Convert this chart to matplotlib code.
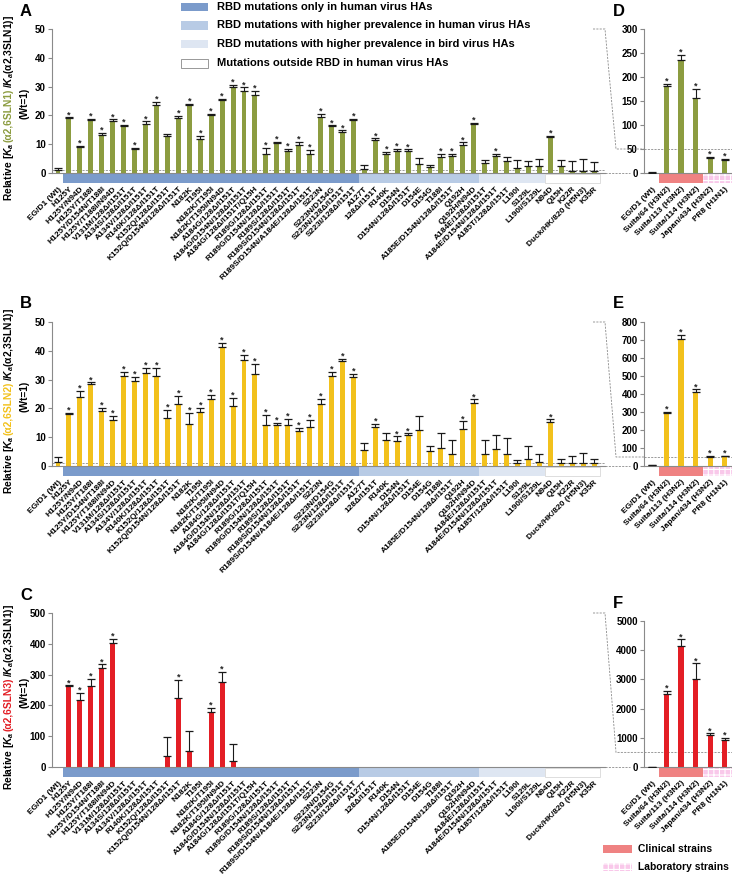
import matplotlib
matplotlib.use("Agg")
import matplotlib.pyplot as plt
from matplotlib.patches import Rectangle
from matplotlib.lines import Line2D
from matplotlib.transforms import blended_transform_factory
import numpy as np

plt.rcParams['font.family'] = ['Liberation Sans', 'DejaVu Sans']
plt.rcParams['font.weight'] = 'bold'
plt.rcParams['mathtext.fontset'] = 'custom'
plt.rcParams['mathtext.it'] = 'Liberation Sans:italic:bold'
plt.rcParams['mathtext.rm'] = 'Liberation Sans:bold'
plt.rcParams['mathtext.bf'] = 'Liberation Sans:bold'
plt.rcParams['hatch.linewidth'] = 0.8

W, H = 732, 874

# ---- data -------------------------------------------------------------
mutants = [
    "EG/D1 (Wt)", "H125Y", "H125Y/N94D", "H125Y/T188I", "H125Y/D154N/T188I",
    "H125Y/T188I/N94D", "V131M/128Δ/I151T", "A134S/128Δ/I151T", "A134V/128Δ/I151T",
    "R140K/128Δ/I151T", "K152Q/128Δ/I151T", "K152Q/D154N/128Δ/I151T", "N182K",
    "T195I", "N182K/T195I", "N182K/T195I/N94D", "A184G/128Δ/I151T",
    "A184G/D154N/128Δ/I151T", "A184G/128Δ/I151T/Q15H", "R189G/128Δ/I151T",
    "R189G/D154N/128Δ/I151T", "R189S/128Δ/I151T", "R189S/D154N/128Δ/I151T",
    "R189S/D154N/A184E/128Δ/I151T", "S223N", "S223N/D154G", "S223N/128Δ/I151T",
    "S223I/128Δ/I151T", "A127T", "128Δ/I151T", "R140K", "D154N",
    "D154N/128Δ/I151T", "D154E", "D154G", "T188I", "A185E/D154N/128Δ/I151T",
    "Q192H", "Q192H/N94D", "A184E/128Δ/I151T", "A184E/D154N/128Δ/I151T",
    "A185T/128Δ/I151T", "L190I", "S129L", "L190I/S129L", "N94D", "Q15H", "K22R",
    "Duck/HK/820 (H5N3)", "K35R",
]

sln1 = [1.0, 19.0, 8.9, 18.5, 13.3, 18.2, 16.2, 8.3, 17.1, 23.7,
        12.9, 19.0, 23.7, 11.8, 20.2, 25.2, 30.0, 28.6, 27.1, 6.7,
        10.4, 7.5, 9.6, 6.7, 19.6, 16.2, 14.1, 18.5, 1.5, 11.5,
        6.7, 7.8, 7.5, 3.2, 2.0, 5.5, 5.8, 9.8, 17.0, 3.5,
        6.0, 4.3, 1.7, 2.5, 2.5, 12.5, 2.5, 0.8, 0.8, 0.7]
sln1_err = [0.9, 0.3, 0.5, 0.4, 0.6, 0.4, 0.4, 0.4, 0.8, 1.1,
            0.7, 0.7, 0.4, 1.1, 0.4, 0.5, 0.6, 1.1, 1.3, 2.0,
            0.5, 0.9, 1.1, 1.3, 0.9, 0.3, 0.7, 0.4, 1.4, 0.5,
            0.6, 0.5, 0.7, 2.0, 0.9, 1.0, 0.9, 0.8, 0.4, 0.9,
            0.6, 1.2, 2.8, 1.5, 2.3, 0.3, 2.1, 3.2, 4.0, 3.0]
sln1_sig = [0, 1, 1, 1, 1, 1, 1, 1, 1, 1,
            0, 1, 1, 1, 1, 1, 1, 1, 1, 1,
            1, 1, 1, 1, 1, 1, 1, 1, 0, 1,
            1, 1, 1, 0, 0, 1, 1, 1, 1, 0,
            1, 0, 0, 0, 0, 1, 0, 0, 0, 0]

sln2 = [1.3, 18.2, 24.1, 28.3, 19.1, 16.1, 31.4, 29.4, 32.2, 31.1,
        16.6, 21.6, 14.7, 18.6, 23.1, 41.4, 20.7, 36.8, 32.0, 14.1,
        14.1, 14.1, 12.2, 13.6, 21.6, 31.4, 36.3, 30.8, 5.5, 13.6,
        9.2, 8.7, 10.7, 12.4, 5.3, 6.1, 4.0, 13.0, 22.0, 4.0,
        6.0, 4.0, 0.9, 2.4, 1.3, 15.4, 1.1, 1.1, 1.1, 1.1]
sln2_err = [1.9, 0.3, 2.1, 0.7, 1.1, 1.4, 1.4, 1.4, 1.8, 2.9,
            2.9, 2.7, 3.7, 1.6, 1.6, 1.2, 2.9, 1.7, 3.4, 3.5,
            1.0, 2.2, 1.1, 2.3, 1.7, 1.2, 0.8, 1.2, 2.5, 1.1,
            2.3, 1.6, 0.6, 5.1, 1.6, 5.5, 5.2, 2.5, 1.1, 5.0,
            4.6, 5.8, 1.3, 4.7, 2.7, 0.8, 1.2, 2.5, 3.3, 1.5]
sln2_sig = [0, 1, 1, 1, 1, 1, 1, 1, 1, 1,
            1, 1, 1, 1, 1, 1, 1, 1, 1, 1,
            1, 1, 1, 1, 1, 1, 1, 1, 0, 1,
            0, 1, 1, 0, 0, 0, 0, 1, 1, 0,
            0, 0, 0, 0, 0, 1, 0, 0, 0, 0]

sln3 = [1, 262, 218, 262, 320, 402, 0, 0, 0, 0,
        36, 223, 51, 0, 179, 277, 21, 0, 0, 0,
        0, 0, 0, 0, 0, 0, 0, 0, 0, 0,
        0, 0, 0, 0, 0, 0, 0, 0, 0, 1,
        1, 0, 0, 0, 0, 0, 0, 0, 0, 1]
sln3_err = [0, 3, 22, 25, 13, 15, 0, 0, 0, 0,
            62, 60, 66, 0, 14, 32, 55, 0, 0, 0,
            0, 0, 0, 0, 0, 0, 0, 0, 0, 0,
            0, 0, 0, 0, 0, 0, 0, 0, 0, 0,
            0, 0, 0, 0, 0, 0, 0, 0, 0, 0]
sln3_sig = [0, 1, 1, 1, 1, 1, 0, 0, 0, 0,
            0, 1, 0, 0, 1, 1, 0, 0, 0, 0,
            0, 0, 0, 0, 0, 0, 0, 0, 0, 0,
            0, 0, 0, 0, 0, 0, 0, 0, 0, 0,
            0, 0, 0, 0, 0, 0, 0, 0, 0, 0]

strains = ["EG/D1 (Wt)", "Suita/64 (H3N2)", "Suita/113 (H3N2)",
           "Suita/114 (H3N2)", "Japan/434 (H3N2)", "PR8 (H1N1)"]
strain_sln1 = [1, 182, 235, 157, 32, 28]
strain_sln1_err = [1, 3, 11, 18, 1, 1]
strain_sln2 = [3, 292, 705, 410, 52, 53]
strain_sln2_err = [1, 10, 22, 15, 2, 3]
strain_sln3 = [5, 2500, 4150, 3000, 1080, 930]
strain_sln3_err = [5, 100, 220, 550, 70, 70]
strain_sig = [0, 1, 1, 1, 1, 1]

# region groups (first index, last index) and their colours
groups = [(1, 27, '#7b9bcb', 'none'), (28, 38, '#b8cbe5', 'none'),
          (39, 44, '#dee6f2', 'none'), (45, 49, 'white', '#d8d8d8')]
strain_groups = [(1, 3, '#ef8282', None), (4, 5, '#f9c8ea', '+++')]

legend_labels = ["RBD mutations only in human virus HAs",
                 "RBD mutations with higher prevalence in human virus HAs",
                 "RBD mutations with higher prevalence in bird virus HAs",
                 "Mutations outside RBD in human virus HAs"]

GREEN, YELLOW, RED = '#8c9c40', '#f2c11c', '#e31e25'
GREY = '#8a8a8a'

fig = plt.figure(figsize=(W / 100, H / 100), dpi=100)


def rect(l, t, r, b):
    return [l / W, 1 - b / H, (r - l) / W, (b - t) / H]


def style_axis(ax):
    for s in ['top', 'right']:
        ax.spines[s].set_visible(False)
    ax.spines['left'].set_color(GREY)
    ax.spines['bottom'].set_color(GREY)
    ax.spines['left'].set_linewidth(0.8)
    ax.spines['bottom'].set_linewidth(0.8)
    ax.tick_params(axis='y', length=3, width=0.8, color=GREY, labelsize=7, pad=1.5)
    ax.tick_params(axis='x', length=0, labelsize=6.0, pad=9)
    for lab in ax.get_yticklabels():
        lab.set_fontweight('bold')


def draw_bars(ax, vals, errs, sig, color, width, band, hpx):
    x = np.arange(len(vals))
    vals = np.array(vals, dtype=float)
    errs = np.array(errs, dtype=float)
    ax.bar(x, vals, width=width, color=color, zorder=2)
    m = errs > 0
    ax.errorbar(x[m], vals[m], yerr=[np.zeros(m.sum()), errs[m]], fmt='none',
                ecolor='#1a1a1a', elinewidth=0.8, capsize=2.6, capthick=0.9, zorder=3)
    for xi, v, e, s in zip(x, vals, errs, sig):
        if s:
            ax.annotate('*', (xi, v + e), xytext=(0, 0.2), textcoords='offset points',
                        ha='center', va='baseline', fontsize=6.5, color='#222222')
    tr = blended_transform_factory(ax.transData, ax.transAxes)
    for a, b, fc, hatch_or_edge in band:
        if hatch_or_edge in (None, 'none') or hatch_or_edge.startswith('#'):
            ec = hatch_or_edge if (hatch_or_edge and hatch_or_edge.startswith('#')) else 'none'
            ax.add_patch(Rectangle((a - 0.5, -10 / hpx), b - a + 1, 9 / hpx, transform=tr,
                                   facecolor=fc, edgecolor=ec, lw=0.6, clip_on=False))
        else:
            ax.add_patch(Rectangle((a - 0.5, -10 / hpx), b - a + 1, 9 / hpx, transform=tr,
                                   facecolor=fc, edgecolor='white', hatch=hatch_or_edge,
                                   lw=0, clip_on=False))


def colored_ylabel(ax, parts, x1, x2, shift):
    r = fig.canvas.get_renderer()
    ts = [fig.text(0, 0, s, color=c, rotation=90, rotation_mode='anchor', ha='left',
                   va='baseline', fontsize=7.4, fontweight='bold') for s, c in parts]
    lens = [t.get_window_extent(r).height for t in ts]
    bb = ax.get_position()
    yc0 = (bb.y0 + bb.y1) / 2 * H
    yc = yc0 - shift
    y = yc - sum(lens) / 2
    for t, L in zip(ts, lens):
        t.set_position((x1 / W, y / H))
        y += L
    fig.text(x2 / W, (yc0 - 2) / H, "(Wt=1)", rotation=90, rotation_mode='anchor',
             ha='center', va='baseline', fontsize=7.4, fontweight='bold')


main_rows = [
    ('A', 'D', 29, 173, sln1, sln1_err, sln1_sig, GREEN, 50, 10, 1, '1',
     strain_sln1, strain_sln1_err, 300, 50, 29, 173, 50),
    ('B', 'E', 322, 466, sln2, sln2_err, sln2_sig, YELLOW, 50, 10, 1, '2',
     strain_sln2, strain_sln2_err, 800, 100, 322, 466, 50),
    ('C', 'F', 613, 767, sln3, sln3_err, sln3_sig, RED, 500, 100, 1, '3',
     strain_sln3, strain_sln3_err, 5000, 1000, 621, 767, 500),
]

L_MAIN, R_MAIN = 52, 605
L_SIDE, R_SIDE = 644, 732
for (lt, lt2, top, bot, vals, errs, sig, color, ymax, ystep, ref, num,
     svals, serrs, symax, systep, stop, sbot, sref) in main_rows:
    ax = fig.add_axes(rect(L_MAIN, top, R_MAIN, bot))
    hpx = bot - top
    draw_bars(ax, vals, errs, sig, color, 0.45, groups, hpx)
    ax.axhline(ref, color=GREY, lw=0.6, ls=(0, (2.5, 1.5)), zorder=1)
    ax.set_xlim(-0.55, 50.0)
    ax.set_ylim(0, ymax)
    ax.set_yticks(np.arange(0, ymax + 1, ystep))
    ax.set_xticks(np.arange(len(mutants)))
    ax.set_xticklabels(mutants, rotation=45, ha='right', rotation_mode='anchor',
                       fontweight='bold')
    style_axis(ax)
    fig.text(20 / W, 1 - (top - 18) / H, lt, fontsize=12, fontweight='bold', va='center')
    colored_ylabel(ax, [("Relative [$K_a$", 'black'), ("(α2,6SLN%s)" % num, color),
                        ("/$K_a$(α2,3SLN1)]", 'black')], 12, 27, 7)

    sx = fig.add_axes(rect(L_SIDE, stop, R_SIDE, sbot))
    shpx = sbot - stop
    draw_bars(sx, svals, serrs, strain_sig, color, 0.36, strain_groups, shpx)
    sx.axhline(sref, color=GREY, lw=0.6, ls=(0, (2.5, 1.5)), zorder=1, clip_on=False)
    sx.set_xlim(-0.55, 5.5)
    sx.set_ylim(0, symax)
    sx.set_yticks(np.arange(0, symax + 1, systep))
    sx.set_xticks(np.arange(len(strains)))
    sx.set_xticklabels(strains, rotation=45, ha='right', rotation_mode='anchor',
                       fontweight='bold')
    style_axis(sx)
    sx.tick_params(axis='x', labelsize=6.0)
    fig.text(613 / W, 1 - (stop - 18) / H, lt2, fontsize=12, fontweight='bold', va='center')

    # zoom connector
    inv = fig.transFigure.inverted()
    p_top = ax.transData.transform((50.0, ymax))
    p_zero = ax.transData.transform((50.0, 0))
    q_ref = sx.transData.transform((-0.55, sref))
    xr = p_top[0]
    pts = [(xr - 12, p_top[1]), (xr, p_top[1]), (xr + 11, q_ref[1]), (q_ref[0], q_ref[1])]
    pts = inv.transform(pts)
    fig.add_artist(Line2D(pts[:, 0], pts[:, 1], transform=fig.transFigure, color=GREY,
                          lw=0.6, ls=(0, (2.5, 1.5))))
    pz = inv.transform([(xr, p_zero[1]), (xr + 25, p_zero[1])])
    fig.add_artist(Line2D(pz[:, 0], pz[:, 1], transform=fig.transFigure, color=GREY,
                          lw=0.6, ls=(0, (2.5, 1.5))))

# ---- top legend ----
legend_fc = ['#7b9bcb', '#b8cbe5', '#dee6f2', 'white']
legend_ec = ['none', 'none', 'none', '#888888']
for i, (lab, fc, ec, yc) in enumerate(zip(legend_labels, legend_fc, legend_ec, [7, 25.3, 43.8, 63.5])):
    fig.add_artist(Rectangle((181 / W, 1 - (yc + 4.3) / H), 27 / W, 8.6 / H,
                             transform=fig.transFigure, facecolor=fc, edgecolor=ec, lw=0.6))
    fig.text(217 / W, 1 - yc / H, lab, fontsize=8, fontweight='bold', va='center')

# ---- bottom legend ----
fig.add_artist(Rectangle((603 / W, 1 - 853 / H), 29 / W, 8.5 / H, transform=fig.transFigure,
                         facecolor='#ef8282', edgecolor='none'))
fig.add_artist(Rectangle((603 / W, 1 - 871 / H), 29 / W, 8.5 / H, transform=fig.transFigure,
                         facecolor='#f9c8ea', edgecolor='white', hatch='+++', lw=0))
fig.text(638 / W, 1 - 849 / H, "Clinical strains", fontsize=7.4, fontweight='bold', va='center')
fig.text(638 / W, 1 - 867 / H, "Laboratory strains", fontsize=7.4, fontweight='bold', va='center')

fig.savefig("out.png", dpi=100)
